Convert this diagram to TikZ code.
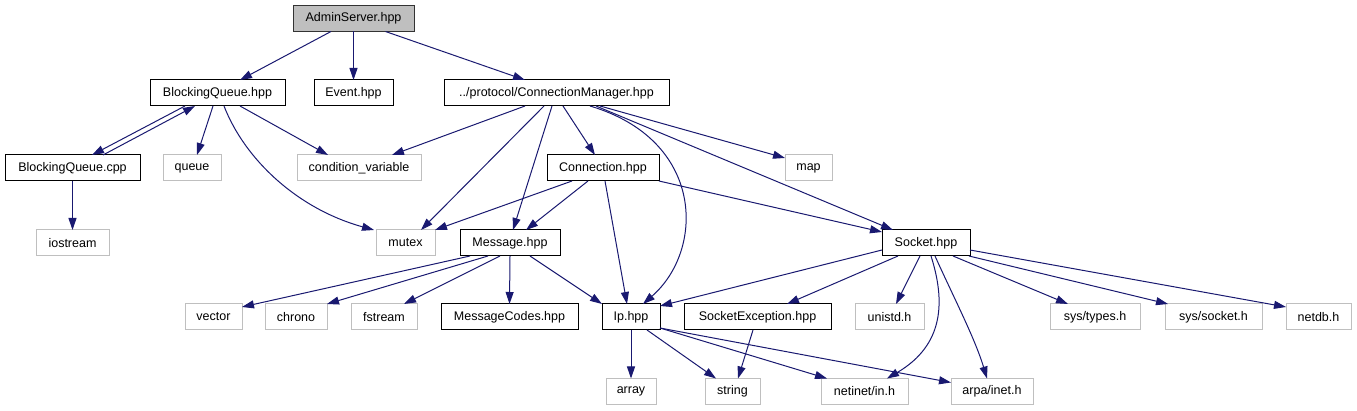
\documentclass[tikz,border=0pt]{standalone}
\usepackage{fontspec}
\setmainfont{Liberation Sans}
\usetikzlibrary{arrows.meta}
\definecolor{edgeblue}{HTML}{191970}
\definecolor{lightgraybd}{HTML}{BFBFBF}
\definecolor{rootfill}{HTML}{BFBFBF}
\tikzset{
  box/.style={rectangle, draw=black, line width=1pt, minimum height=26pt, inner sep=0pt, outer sep=0pt, font=\fontsize{12.5}{14}\selectfont, fill=white},
  sysbox/.style={box, draw=lightgraybd},
  rootbox/.style={box, fill=rootfill, draw=black!80},
  dep/.style={draw=edgeblue, line width=1pt, -{Triangle[length=12pt,width=8pt]}}
}
\begin{document}
\begin{tikzpicture}[x=1pt,y=-1pt]
\useasboundingbox (0,0) rectangle (1357,411);
% row 1
\node[rootbox, minimum width=121pt] (admin) at (353.5,18.5) {AdminServer.hpp};
% row 2
\node[box, minimum width=135pt] (bqh) at (217.5,93) {BlockingQueue.hpp};
\node[box, minimum width=79pt] (event) at (353.5,93) {Event.hpp};
\node[box, minimum width=225pt] (cm) at (556.5,93) {../protocol/ConnectionManager.hpp};
% row 3
\node[box, minimum width=135pt] (bqc) at (72.5,168) {BlockingQueue.cpp};
\node[sysbox, minimum width=58pt] (queue) at (192,168) {queue};
\node[sysbox, minimum width=124pt] (condvar) at (359,168) {condition\_variable};
\node[box, minimum width=112pt] (conn) at (603,168) {Connection.hpp};
\node[sysbox, minimum width=47pt] (map) at (808.5,168) {map};
% row 4
\node[sysbox, minimum width=73pt] (iostream) at (72.5,243) {iostream};
\node[sysbox, minimum width=59pt] (mutex) at (405.5,243) {mutex};
\node[box, minimum width=100pt] (msg) at (510,243) {Message.hpp};
\node[box, minimum width=88pt] (socket) at (926,243) {Socket.hpp};
% row 5
\node[sysbox, minimum width=57pt] (vector) at (213.5,317) {vector};
\node[sysbox, minimum width=62pt] (chrono) at (296,317) {chrono};
\node[sysbox, minimum width=66pt] (fstream) at (384,317) {fstream};
\node[box, minimum width=137pt] (mcodes) at (509.5,317) {MessageCodes.hpp};
\node[box, minimum width=58pt] (ip) at (631,317) {Ip.hpp};
\node[box, minimum width=147pt] (sockexc) at (757.5,317) {SocketException.hpp};
\node[sysbox, minimum width=69pt] (unistd) at (889.5,317) {unistd.h};
\node[sysbox, minimum width=90pt] (systypes) at (1095,317) {sys/types.h};
\node[sysbox, minimum width=97pt] (syssocket) at (1213.5,317) {sys/socket.h};
\node[sysbox, minimum width=65pt] (netdb) at (1318.5,317) {netdb.h};
% row 6
\node[sysbox, minimum width=50pt] (array) at (631,391.5) {array};
\node[sysbox, minimum width=55pt] (string) at (732.5,391.5) {string};
\node[sysbox, minimum width=87pt] (netinet) at (864.5,391.5) {netinet/in.h};
\node[sysbox, minimum width=82pt] (arpa) at (992,391.5) {arpa/inet.h};
% edges
\draw[dep] ([xshift=-22.5pt]admin.south) -- ([xshift=22.5pt]bqh.north);
\draw[dep] (admin.south) -- (event.north);
\draw[dep] ([xshift=32pt]admin.south) -- ([xshift=-31.5pt]cm.north);
\draw[dep] ([xshift=-32.5pt]bqh.south) -- ([xshift=19.5pt]bqc.north);
\draw[dep] ([xshift=30.5pt]bqc.north) -- ([xshift=-22.5pt]bqh.south);
\draw[dep] ([xshift=-4.5pt]bqh.south) -- ([xshift=5pt]queue.north);
\draw[dep] ([xshift=22.5pt]bqh.south) -- ([xshift=-31pt]condvar.north);
\draw[dep] ([xshift=6.5pt]bqh.south) .. controls +(21,54) and +(-76,-21) .. ([xshift=-2pt]mutex.north west);
\draw[dep] (bqc.south) -- (iostream.north);
\draw[dep] ([xshift=-31.5pt]cm.south) -- ([xshift=33pt]condvar.north);
\draw[dep] ([xshift=-12.5pt]cm.south) -- ([xshift=15.5pt]mutex.north);
\draw[dep] ([xshift=-4.5pt]cm.south) -- ([xshift=3pt]msg.north);
\draw[dep] ([xshift=6.5pt]cm.south) -- ([xshift=-8pt]conn.north);
\draw[dep] ([xshift=43.5pt]cm.south) -- ([yshift=-3pt]map.north west);
\draw[dep] ([xshift=33.5pt]cm.south) .. controls +(115,34) and +(62,-54) .. ([xshift=12pt]ip.north);
\draw[dep] ([xshift=39.5pt]cm.south) -- ([xshift=11pt]socket.north west);
\draw[dep] ([xshift=-31pt]conn.south) -- (mutex.north east);
\draw[dep] ([xshift=-15pt]conn.south) -- ([xshift=16pt]msg.north);
\draw[dep] ([xshift=2pt]conn.south) -- ([xshift=-4pt]ip.north);
\draw[dep] (conn.south east) -- ([yshift=-2pt]socket.north west);
\draw[dep] ([xshift=-40pt]msg.south) -- ([yshift=-3pt]vector.north east);
\draw[dep] ([xshift=-22pt]msg.south) -- (chrono.north east);
\draw[dep] ([xshift=-10pt]msg.south) -- ([xshift=20pt]fstream.north);
\draw[dep] (msg.south) -- (mcodes.north);
\draw[dep] ([xshift=20pt]msg.south) -- (ip.north west);
\draw[dep] ([yshift=6pt]socket.south west) -- ([yshift=-2pt]ip.north east);
\draw[dep] ([xshift=-28pt]socket.south) -- ([xshift=29.5pt]sockexc.north);
\draw[dep] ([xshift=-6pt]socket.south) -- ([xshift=6.5pt]unistd.north);
\draw[dep] ([xshift=5pt]socket.south) .. controls +(14,44) and +(58,-34) .. ([xshift=22.5pt]netinet.north);
\draw[dep] ([xshift=9pt]socket.south) .. controls +(18,40) and +(-12,-40) .. ([xshift=-5pt]arpa.north);
\draw[dep] ([xshift=27pt]socket.south) -- ([xshift=-27pt]systypes.north);
\draw[dep] ([xshift=-1pt]socket.south east) -- ([xshift=3pt]syssocket.north west);
\draw[dep] ([yshift=6pt]socket.south east) -- ([yshift=-3pt]netdb.north west);
\draw[dep] (ip.south) -- (array.north);
\draw[dep] ([xshift=16pt]ip.south) -- ([xshift=-16.5pt]string.north);
\draw[dep] ([yshift=2pt]ip.south east) -- ([xshift=6pt]netinet.north west);
\draw[dep] ([yshift=2pt]ip.south east) -- ([yshift=-4pt]arpa.north west);
\draw[dep] ([xshift=-4.5pt]sockexc.south) -- ([xshift=5.5pt]string.north);
\end{tikzpicture}
\end{document}
